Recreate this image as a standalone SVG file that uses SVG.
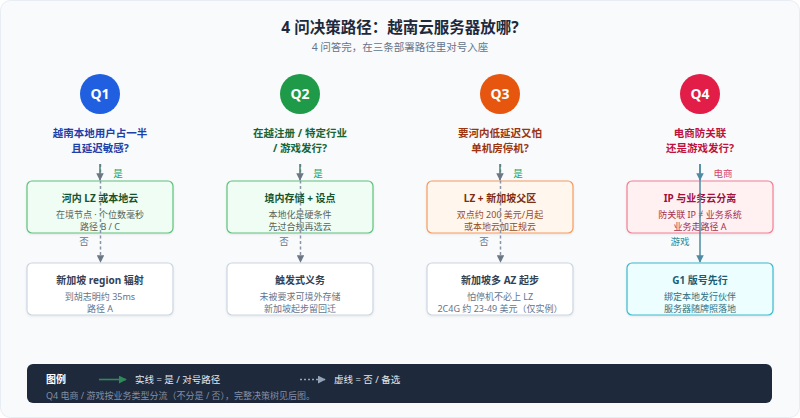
<svg xmlns="http://www.w3.org/2000/svg" width="800" height="418" viewBox="0 0 800 418">
<style>
text{font-family:"Noto Sans","Noto Sans CJK SC",sans-serif;text-anchor:middle}
.title{font-size:15.5px;font-weight:700;fill:#1e293b}
.sub{font-size:10.5px;fill:#64748b}
.qn{font-size:14px;font-weight:700;fill:#fff}
.q{font-size:10.5px;font-weight:700}
.bt{font-size:10px;font-weight:700}
.bs{font-size:9px}
.lbl{font-size:9.5px}
.yes{fill:#f0fdf4;stroke:#5cc27a;stroke-width:1.2}
.no{fill:#ffffff;stroke:#cbd5e1;stroke-width:1.2}
.solid{stroke:#4d8070;stroke-width:1.5;fill:none}
.dash{stroke:#8a94a6;stroke-width:1.5;fill:none;stroke-dasharray:3 2.5}
.q4l{stroke:#4f8aa3;stroke-width:1.5;fill:none}
.leg{font-size:9.5px;fill:#e2e8f0;text-anchor:start}
</style>
<defs>
<marker id="ah" viewBox="0 0 10 10" refX="9" refY="5" markerWidth="5" markerHeight="5" orient="auto"><path d="M0,0 L10,5 L0,10 z" fill="#6b7785"/></marker>
<marker id="ahq4" viewBox="0 0 10 10" refX="9" refY="5" markerWidth="5" markerHeight="5" orient="auto"><path d="M0,0 L10,5 L0,10 z" fill="#4f8aa3"/></marker>
<marker id="ahg" viewBox="0 0 10 10" refX="9" refY="5" markerWidth="5" markerHeight="5" orient="auto"><path d="M0,0 L10,5 L0,10 z" fill="#2f8a5a"/></marker>
<marker id="ahd" viewBox="0 0 10 10" refX="9" refY="5" markerWidth="5" markerHeight="5" orient="auto"><path d="M0,0 L10,5 L0,10 z" fill="#94a3b8"/></marker>
<filter id="sh" x="-10%" y="-20%" width="120%" height="150%"><feDropShadow dx="0" dy="1" stdDeviation="1.2" flood-color="#0f172a" flood-opacity="0.08"/></filter>
</defs>
<rect x="0.5" y="0.5" width="799" height="417" rx="10" fill="#f8fafc" stroke="#e8edf3"/>
<g id="header">
<text class="title" x="400" y="33">4 问决策路径：越南云服务器放哪?</text>
<text class="sub" x="400" y="51">4 问答完，在三条部署路径里对号入座</text>
</g>

<g id="q1">
<circle cx="100" cy="94" r="20" fill="#1f5fe0"/>
<text class="qn" x="100" y="99">Q1</text>
<text class="q" x="100" y="137" fill="#1e3fa8">越南本地用户占一半</text>
<text class="q" x="100" y="152" fill="#1e3fa8">且延迟敏感?</text>
</g>
<g id="q1-yes">
<rect class="yes" x="27" y="181" width="146" height="52" rx="5" filter="url(#sh)"/>
<text class="bt" x="100" y="202" fill="#14532d">河内 LZ 或本地云</text>
<text class="bs" x="100" y="217.5" fill="#55655c">在境节点 · 个位数毫秒</text>
<text class="bs" x="100" y="229.5" fill="#55655c">路径 B / C</text>
</g>
<g id="q1-no">
<rect class="no" x="27" y="263" width="146" height="52" rx="5" filter="url(#sh)"/>
<text class="bt" x="100" y="284" fill="#334155">新加坡 region 辐射</text>
<text class="bs" x="100" y="299.5" fill="#64748b">到胡志明约 35ms</text>
<text class="bs" x="100" y="311.5" fill="#64748b">路径 A</text>
</g>

<g id="q2">
<circle cx="300" cy="94" r="20" fill="#1f9a48"/>
<text class="qn" x="300" y="99">Q2</text>
<text class="q" x="300" y="137" fill="#166534">在越注册 / 特定行业</text>
<text class="q" x="300" y="152" fill="#166534">/ 游戏发行?</text>
</g>
<g id="q2-yes">
<rect class="yes" x="227" y="181" width="146" height="52" rx="5" filter="url(#sh)"/>
<text class="bt" x="300" y="202" fill="#14532d">境内存储 + 设点</text>
<text class="bs" x="300" y="217.5" fill="#55655c">本地化是硬条件</text>
<text class="bs" x="300" y="229.5" fill="#55655c">先过合规再选云</text>
</g>
<g id="q2-no">
<rect class="no" x="227" y="263" width="146" height="52" rx="5" filter="url(#sh)"/>
<text class="bt" x="300" y="284" fill="#334155">触发式义务</text>
<text class="bs" x="300" y="299.5" fill="#64748b">未被要求可境外存储</text>
<text class="bs" x="300" y="311.5" fill="#64748b">新加坡起步留回迁</text>
</g>

<g id="q3">
<circle cx="500" cy="94" r="20" fill="#e6560f"/>
<text class="qn" x="500" y="99">Q3</text>
<text class="q" x="500" y="137" fill="#9a3412">要河内低延迟又怕</text>
<text class="q" x="500" y="152" fill="#9a3412">单机房停机?</text>
</g>
<g id="q3-yes">
<rect x="427" y="181" width="146" height="52" rx="5" fill="#fff7ed" stroke="#f59a5e" stroke-width="1.2" filter="url(#sh)"/>
<text class="bt" x="500" y="202" fill="#7c2d12">LZ + 新加坡父区</text>
<text class="bs" x="500" y="217.5" fill="#9a4a1e">双点约 200 美元/月起</text>
<text class="bs" x="500" y="229.5" fill="#9a4a1e">或本地云加正规云</text>
</g>
<g id="q3-no">
<rect class="no" x="427" y="263" width="146" height="52" rx="5" filter="url(#sh)"/>
<text class="bt" x="500" y="284" fill="#334155">新加坡多 AZ 起步</text>
<text class="bs" x="500" y="299.5" fill="#64748b">怕停机不必上 LZ</text>
<text class="bs" x="500" y="311.5" fill="#64748b">2C4G 约 23-49 美元（仅实例）</text>
</g>

<g id="q4">
<circle cx="700" cy="94" r="20" fill="#e11d48"/>
<text class="qn" x="700" y="99">Q4</text>
<text class="q" x="700" y="137" fill="#be123c">电商防关联</text>
<text class="q" x="700" y="152" fill="#be123c">还是游戏发行?</text>
</g>
<g id="q4-ecom">
<rect x="627" y="181" width="146" height="52" rx="5" fill="#fff1f2" stroke="#f47c93" stroke-width="1.2" filter="url(#sh)"/>
<text class="bt" x="700" y="202" fill="#9f1239">IP 与业务云分离</text>
<text class="bs" x="700" y="217.5" fill="#a3304f">防关联 IP ≠ 业务系统</text>
<text class="bs" x="700" y="229.5" fill="#a3304f">业务走路径 A</text>
</g>
<g id="q4-game">
<rect x="627" y="263" width="146" height="52" rx="5" fill="#ecfeff" stroke="#3bb8cc" stroke-width="1.2" filter="url(#sh)"/>
<text class="bt" x="700" y="284" fill="#155e75">G1 版号先行</text>
<text class="bs" x="700" y="299.5" fill="#2f6f80">绑定本地发行伙伴</text>
<text class="bs" x="700" y="311.5" fill="#2f6f80">服务器随牌照落地</text>
</g>

<g id="connectors">
<line class="dash" x1="100.5" y1="164" x2="100.5" y2="262" marker-end="url(#ah)"/>
<line class="solid" x1="100" y1="164" x2="100" y2="180" marker-end="url(#ah)"/>
<text class="lbl" x="118" y="177" fill="#22a559">是</text>
<text class="lbl" x="84" y="245" fill="#64748b">否</text>

<line class="dash" x1="300.5" y1="164" x2="300.5" y2="262" marker-end="url(#ah)"/>
<line class="solid" x1="300" y1="164" x2="300" y2="180" marker-end="url(#ah)"/>
<text class="lbl" x="318" y="177" fill="#22a559">是</text>
<text class="lbl" x="284" y="245" fill="#64748b">否</text>

<line class="dash" x1="500.5" y1="164" x2="500.5" y2="262" marker-end="url(#ah)"/>
<line class="solid" x1="500" y1="164" x2="500" y2="180" marker-end="url(#ah)"/>
<text class="lbl" x="518" y="177" fill="#22a559">是</text>
<text class="lbl" x="484" y="245" fill="#64748b">否</text>

<line class="q4l" x1="700" y1="164" x2="700" y2="262" marker-end="url(#ahq4)"/>
<line class="q4l" x1="700" y1="164" x2="700" y2="180" marker-end="url(#ahq4)"/>
<text class="lbl" x="723" y="177" fill="#d9466a">电商</text>
<text class="lbl" x="680" y="245" fill="#2a8a9c">游戏</text>
</g>

<g id="legend">
<rect x="27" y="364" width="745" height="39" rx="6" fill="#1e293b"/>
<text x="46" y="383" style="font-size:10px;font-weight:700;fill:#ffffff;text-anchor:start">图例</text>
<line x1="99" y1="379.5" x2="126" y2="379.5" stroke="#2f8a5a" stroke-width="1.6" marker-end="url(#ahg)"/>
<text class="leg" x="135" y="383">实线 = 是 / 对号路径</text>
<line x1="300" y1="379.5" x2="325" y2="379.5" stroke="#94a3b8" stroke-width="1.6" stroke-dasharray="2 2" marker-end="url(#ahd)"/>
<text class="leg" x="334" y="383">虚线 = 否 / 备选</text>
<text x="46" y="399" style="font-size:9px;fill:#8290a6;text-anchor:start">Q4 电商 / 游戏按业务类型分流（不分是 / 否），完整决策树见后图。</text>
</g>
</svg>
